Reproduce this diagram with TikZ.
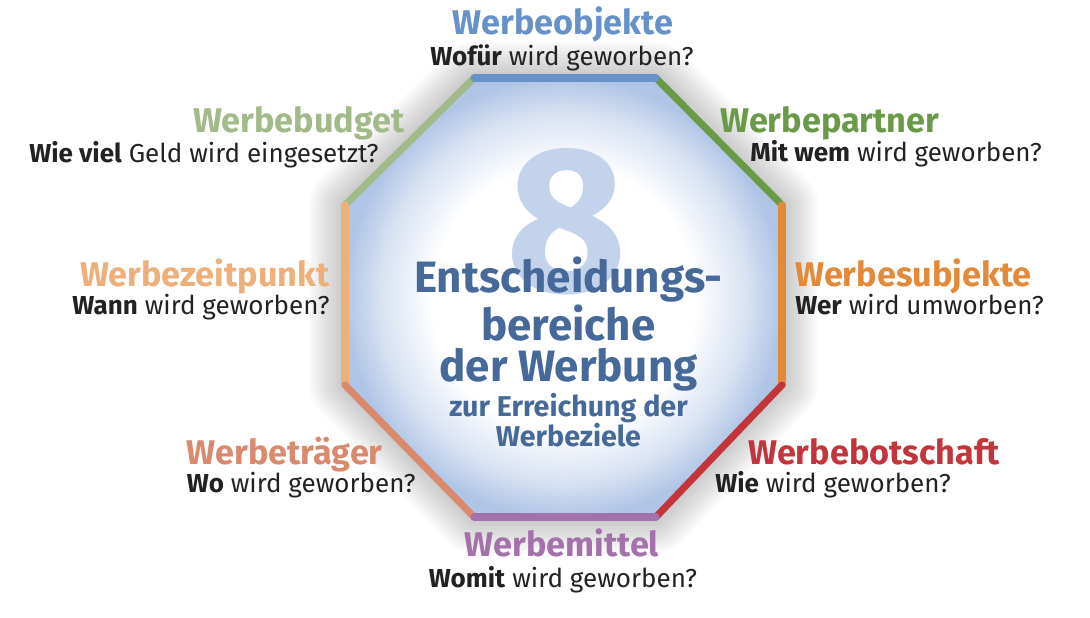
\documentclass[tikz,border=0pt]{standalone}
\usepackage{fontspec}
\setmainfont{Fira Sans}
\usepackage{xcolor}
\usepackage{tikz}
\usetikzlibrary{positioning}

\definecolor{objblue}{HTML}{6691C9}
\definecolor{partgreen}{HTML}{6A9A48}
\definecolor{subjorange}{HTML}{E28A3A}
\definecolor{botred}{HTML}{C2353B}
\definecolor{mittelpurple}{HTML}{A472AA}
\definecolor{traegerred}{HTML}{D9896E}
\definecolor{zeitorange}{HTML}{EDB07A}
\definecolor{budgetgreen}{HTML}{A2B98A}
\definecolor{headblue}{HTML}{46699A}
\definecolor{eightblue}{HTML}{C3D3EB}
\definecolor{octfill}{HTML}{B0C5E6}
\definecolor{asktext}{HTML}{222222}

\pgfdeclareradialshading{octshade}{\pgfpoint{0bp}{0bp}}{%
  color(0bp)=(white); color(15bp)=(white); color(21bp)=(octfill!50);
  color(25bp)=(octfill); color(50bp)=(octfill)}

\begin{document}
\begin{tikzpicture}[x=0.02cm, y=-0.02cm,
  title/.style = {font=\fontsize{19.5}{21}\selectfont\bfseries, inner sep=0pt},
  ask/.style   = {font=\fontsize{14.8}{17}\selectfont, text=asktext, inner sep=0pt},
  side/.style  = {line width=4pt, line cap=round},
  head/.style  = {font=\fontsize{25}{23.8}\selectfont\bfseries, text=headblue,
                  align=center, inner sep=0pt},
  subhead/.style = {font=\fontsize{16.3}{17}\selectfont\bfseries, text=headblue,
                  align=center, inner sep=0pt},
]
\useasboundingbox (0,0) rectangle (1090,618);

%% Octagon corners
\coordinate (c1) at (474,78);
\coordinate (c2) at (656,78);
\coordinate (c3) at (782,205);
\coordinate (c4) at (782,385);
\coordinate (c5) at (656,517);
\coordinate (c6) at (474,517);
\coordinate (c7) at (345,385);
\coordinate (c8) at (345,205);

%% soft shadow round the octagon
\foreach \w in {6,12,...,72}
  \draw[black, opacity=0.02, line width={\w*0.567pt}, line join=round]
    (c1) -- (c2) -- (c3) -- (c4) -- (c5) -- (c6) -- (c7) -- (c8) -- cycle;

%% Octagon body: white middle, blue rim
\fill[octfill] (c1) -- (c2) -- (c3) -- (c4) -- (c5) -- (c6) -- (c7) -- (c8) -- cycle;
\shade[shading=octshade] (c1) -- (c2) -- (c3) -- (c4) -- (c5) -- (c6) -- (c7) -- (c8) -- cycle;

%% coloured sides
\draw[side, budgetgreen]  (c8) -- (c1);
\draw[side, partgreen]    (c2) -- (c3);
\draw[side, zeitorange]   (c7) -- (c8);
\draw[side, subjorange]   (c3) -- (c4);
\draw[side, traegerred]   (c6) -- (c7);
\draw[side, botred]       (c4) -- (c5);
\draw[side, objblue]      (c1) -- (c2);
\draw[side, mittelpurple] (c5) -- (c6);

%% big eight behind the heading
\node[inner sep=0pt, anchor=base, text=eightblue,
      font=\fontsize{118}{120}\selectfont\bfseries] (eight) at (567,292) {8};

%% heading in the middle
\node[head, anchor=north] (head) at (568.5,257)
      {Entscheidungs-\\bereiche\\der Werbung};
\node[subhead, anchor=north] (subhead) at (568.5,393)
      {zur Erreichung der\\Werbeziele};

%% Labels round the octagon
\node[title, text=objblue, anchor=base] (objekte) at (563,35) {Werbeobjekte};
\node[ask, anchor=base] (objekteq) at (562,66) {\textbf{Wofür} wird geworben?};

\node[title, text=partgreen, anchor=base west] (partner) at (720,133) {Werbepartner};
\node[ask, anchor=base west] (partnerq) at (750,162) {\textbf{Mit wem} wird geworben?};

\node[title, text=budgetgreen, anchor=base east] (budget) at (405,133) {Werbebudget};
\node[ask, anchor=base east] (budgetq) at (379,163) {\textbf{Wie viel} Geld wird eingesetzt?};

\node[title, text=zeitorange, anchor=base east] (zeit) at (330,287) {Werbezeitpunkt};
\node[ask, anchor=base east] (zeitq) at (330,315) {\textbf{Wann} wird geworben?};

\node[title, text=subjorange, anchor=base west] (subjekte) at (795,287) {Werbesubjekte};
\node[ask, anchor=base west] (subjekteq) at (795,315) {\textbf{Wer} wird umworben?};

\node[title, text=traegerred, anchor=base east] (traeger) at (383,465) {Werbeträger};
\node[ask, anchor=base east] (traegerq) at (416,493) {\textbf{Wo} wird geworben?};

\node[title, text=botred, anchor=base west] (botschaft) at (748,465) {Werbebotschaft};
\node[ask, anchor=base west] (botschaftq) at (715,493) {\textbf{Wie} wird geworben?};

\node[title, text=mittelpurple, anchor=base] (mittel) at (562,557) {Werbemittel};
\node[ask, anchor=base] (mittelq) at (563,587) {\textbf{Womit} wird geworben?};

\end{tikzpicture}
\end{document}
